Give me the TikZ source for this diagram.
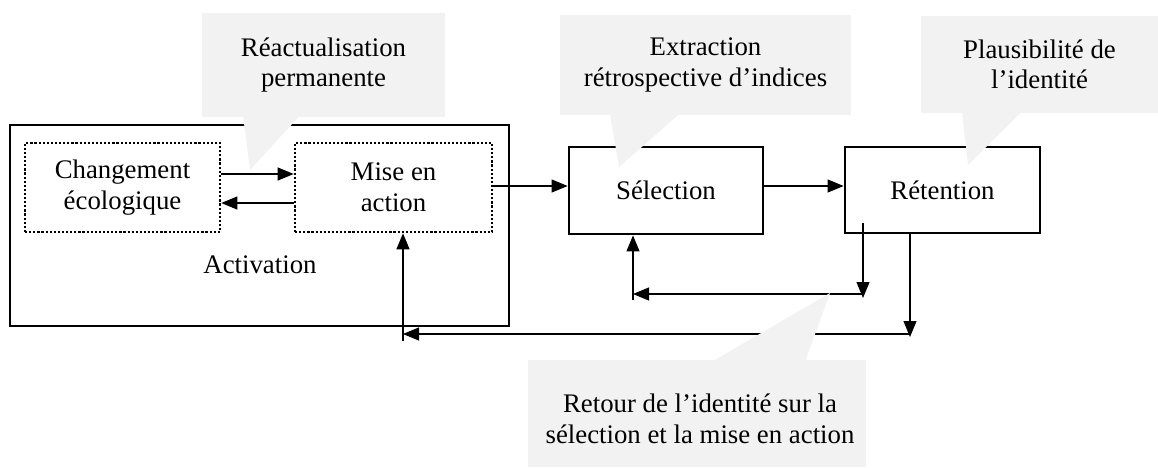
\documentclass[tikz,border=0pt]{standalone}
\usepackage{fontspec}
\setmainfont{Liberation Serif}
\usetikzlibrary{arrows.meta,calc}
\definecolor{cgray}{RGB}{242,242,242}
\begin{document}
\begin{tikzpicture}[x=0.5pt,y=-0.5pt,
  txt/.style={font=\fontsize{13.4}{15.3}\selectfont, align=center, inner sep=0pt},
  solidbox/.style={draw, line width=1.4pt, inner sep=0pt, txt},
  dotbox/.style={draw, line width=1.3pt, dash pattern=on 1.1pt off 0.95pt, inner sep=0pt, txt},
  arr/.style={line width=0.55pt, -{Triangle[length=8pt,width=6.5pt]}},
  callout/.style={fill=cgray, inner sep=0pt, txt}]
\useasboundingbox (0,0) rectangle (1158,467);

% boxes
\node[solidbox, minimum width=249.5pt, minimum height=100.5pt] (act) at (259.5,225.5) {};
\node[txt] (actlbl) at (260,265) {Activation};
\node[dotbox, minimum width=97.5pt, minimum height=44.5pt] (ch) at (122.5,187.5) {Changement\\écologique};
\node[dotbox, minimum width=98.5pt, minimum height=44.5pt] (mise) at (393.5,187.5) {Mise en\\action};
\node[solidbox, minimum width=97pt, minimum height=43.5pt] (sel) at (666,190.5) {Sélection};
\node[solidbox, minimum width=97.5pt, minimum height=43pt] (ret) at (942.5,190) {Rétention};

% connectors
\draw[arr] (ch.east |- 0,174) -- (mise.west |- 0,174);
\draw[arr] (mise.west |- 0,203) -- (ch.east |- 0,203);
\draw[arr] (mise.east |- 0,186) -- (sel.west |- 0,186);
\draw[arr] (sel.east |- 0,186) -- (ret.west |- 0,186);

\coordinate (f1a) at (863,223);
\coordinate (f1b) at (863,298);
\coordinate (h1r) at (863,294);
\coordinate (h1l) at (633,294);
\coordinate (v1b) at (633,300);
\draw[arr] (f1a) -- (f1b);
\draw[arr] (h1r) -- (h1l);
\draw[arr] (v1b) -- (sel.south -| v1b);

\coordinate (f2b) at (910,337);
\coordinate (h2r) at (910,334);
\coordinate (h2l) at (403,334);
\coordinate (v2b) at (403,341);
\draw[arr] (ret.south -| f2b) -- (f2b);
\draw[arr] (h2r) -- (h2l);
\draw[arr] (v2b) -- (mise.south -| v2b);

% callouts
\node[callout, minimum width=121.5pt, minimum height=52pt] (c1) at (323.5,65) {Réactualisation\\permanente};
\coordinate (t1) at (250,170);
\fill[cgray] ($(c1.south -| 243,0)+(0,-2)$) -- (t1) -- ($(c1.south -| 300,0)+(0,-2)$) -- cycle;

\node[callout, minimum width=145.5pt, minimum height=50pt] (c2) at (705.5,65) {Extraction\\rétrospective d’indices};
\coordinate (t2) at (619,167);
\fill[cgray] ($(c2.south -| 610,0)+(0,-2)$) -- (t2) -- ($(c2.south -| 680,0)+(0,-2)$) -- cycle;

\node[callout, minimum width=118.5pt, minimum height=48.5pt] (c3) at (1039.5,64.5) {Plausibilité de\\l’identité};
\coordinate (t3) at (968,165);
\fill[cgray] ($(c3.south -| 962,0)+(0,-2)$) -- (t3) -- ($(c3.south -| 1022,0)+(0,-2)$) -- cycle;

\node[callout, minimum width=169pt, minimum height=53.5pt] (c4) at (697,413.5) {};
\node[txt] (c4t) at (700,419) {Retour de l’identité sur la\\sélection et la mise en action};
\coordinate (t4) at (830,293);
\fill[cgray] ($(c4.north -| 712,0)+(0,2)$) -- (t4) -- ($(c4.north -| 805,0)+(0,2)$) -- cycle;
\end{tikzpicture}
\end{document}
